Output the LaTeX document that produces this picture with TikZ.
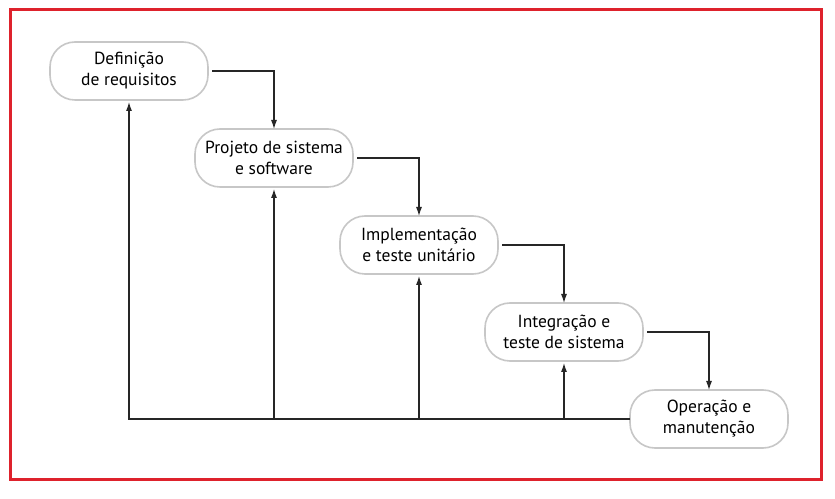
\documentclass[tikz,border=0pt]{standalone}
\usepackage{fontspec}
\setmainfont{PT Sans}
\usetikzlibrary{positioning, arrows.meta}
\definecolor{framered}{RGB}{222,34,44}

\begin{document}
\begin{tikzpicture}[x=1pt, y=1pt, node distance=29pt and -13pt,
        every node/.style={font=\fontsize{17.5}{21}\selectfont},
        phase/.style={draw=black!22, line width=1.6pt, rounded corners=25pt, minimum width=158pt, minimum height=58pt, align=center, inner sep=0pt, outer sep=0pt},
        flow/.style={-{Latex[length=9pt,width=6pt]}, line width=1.1pt, black!85}]
        % Frame
        \fill[white] (0,0) rectangle (835,498);
        \draw[framered, line width=3pt] (10,19) rectangle (821,488);

        % Phases
        \node[phase] (req) at (129,427) {Definição\\de requisitos};
        \node[phase, below right=of req] (proj) {Projeto de sistema\\e software};
        \node[phase, below right=of proj] (impl) {Implementação\\e teste unitário};
        \node[phase, below right=of impl] (integ) {Integração e\\teste de sistema};
        \node[phase, below right=of integ] (oper) {Operação e\\manutenção};

        % Forward flow
        \draw[flow] ([xshift=4pt]req.east) -| (proj.north);
        \draw[flow] ([xshift=4pt]proj.east) -| (impl.north);
        \draw[flow] ([xshift=4pt]impl.east) -| (integ.north);
        \draw[flow] ([xshift=4pt]integ.east) -| (oper.north);

        % Feedback
        \draw[flow, shorten >=2pt] (oper.west) -| (req.south);
        \draw[flow, shorten >=2pt] (oper.west -| proj.south) -- (proj.south);
        \draw[flow, shorten >=2pt] (oper.west -| impl.south) -- (impl.south);
        \draw[flow, shorten >=2pt] (oper.west -| integ.south) -- (integ.south);
    \end{tikzpicture}
\end{document}
